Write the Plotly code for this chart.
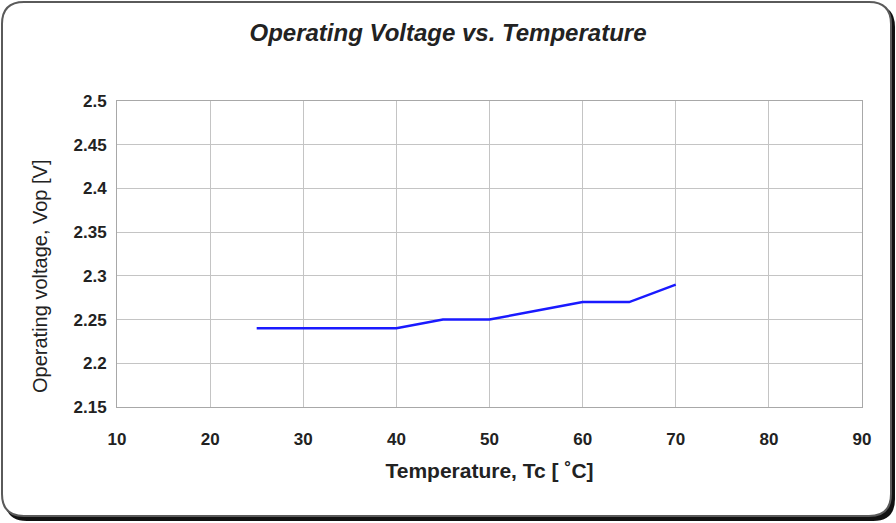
import plotly.graph_objects as go

temperature = [25, 30, 35, 40, 45, 50, 55, 60, 65, 70]
voltage = [2.24, 2.24, 2.24, 2.24, 2.25, 2.25, 2.26, 2.27, 2.27, 2.29]
x_ticks = [10, 20, 30, 40, 50, 60, 70, 80, 90]
y_ticks = [2.15, 2.2, 2.25, 2.3, 2.35, 2.4, 2.45, 2.5]
y_labels = ["2.15", "2.2", "2.25", "2.3", "2.35", "2.4", "2.45", "2.5"]

W, H = 896, 523
L, R, T, B = 117, 34, 101, 116
pw, ph = W - L - R, H - T - B

def px(x):
    return (x - L) / pw

def py(y):
    return 1 - (y - T) / ph

def rrect(x0, y0, x1, y1, r):
    return (f"M {px(x0 + r)},{py(y0)} L {px(x1 - r)},{py(y0)} "
            f"Q {px(x1)},{py(y0)} {px(x1)},{py(y0 + r)} "
            f"L {px(x1)},{py(y1 - r)} Q {px(x1)},{py(y1)} {px(x1 - r)},{py(y1)} "
            f"L {px(x0 + r)},{py(y1)} Q {px(x0)},{py(y1)} {px(x0)},{py(y1 - r)} "
            f"L {px(x0)},{py(y0 + r)} Q {px(x0)},{py(y0)} {px(x0 + r)},{py(y0)} Z")

fig = go.Figure()
fig.add_trace(go.Scatter(x=temperature, y=voltage, mode="lines",
                         line=dict(color="#1a1aff", width=2.5), showlegend=False))

font_family = "Liberation Sans, Arial, sans-serif"

fig.update_layout(
    width=W, height=H,
    margin=dict(l=L, r=R, t=T, b=B),
    paper_bgcolor="white",
    plot_bgcolor="rgba(0,0,0,0)",
    title=dict(text="<b><i>Operating Voltage vs. Temperature</i></b>",
               x=0.5, xref="container", xanchor="center",
               y=1 - 33 / H, yanchor="middle",
               font=dict(family=font_family, size=24, color="#222222")),
    shapes=[
        dict(type="path", xref="paper", yref="paper", layer="below",
             path=rrect(5, 5, 895, 521, 22), fillcolor="#111111", line=dict(width=0)),
        dict(type="path", xref="paper", yref="paper", layer="below",
             path=rrect(2, 2, 891, 516, 22), fillcolor="white",
             line=dict(color="#5a5a5a", width=2)),
    ],
    annotations=[
        dict(text="Operating voltage, Vop [V]", textangle=-90,
             xref="paper", yref="paper", x=px(40), y=py(276),
             xanchor="center", yanchor="middle", showarrow=False,
             font=dict(family=font_family, size=20, color="#222222")),
    ],
)

fig.update_xaxes(
    range=[10, 90], tickvals=x_ticks, ticktext=[str(v) for v in x_ticks],
    showgrid=True, gridcolor="#c4c4c4", gridwidth=1,
    showline=True, linecolor="#a8a8a8", linewidth=1, mirror=True,
    zeroline=False,
    ticks="outside", ticklen=17, tickcolor="rgba(0,0,0,0)",
    tickfont=dict(family=font_family, size=17, color="#222222", weight="bold"),
    title=dict(text="<b>Temperature, Tc [ ˚C]</b>", standoff=14,
               font=dict(family=font_family, size=21, color="#222222")),
)
fig.update_yaxes(
    range=[2.15, 2.5], tickvals=y_ticks, ticktext=y_labels,
    showgrid=True, gridcolor="#c4c4c4", gridwidth=1,
    showline=True, linecolor="#a8a8a8", linewidth=1, mirror=True,
    zeroline=False,
    ticks="outside", ticklen=6, tickcolor="rgba(0,0,0,0)",
    tickfont=dict(family=font_family, size=17, color="#222222", weight="bold"),
)

fig.write_html("out.html", config={"displayModeBar": False},
               post_script="document.body.style.margin='0';document.body.style.overflow='hidden';")
